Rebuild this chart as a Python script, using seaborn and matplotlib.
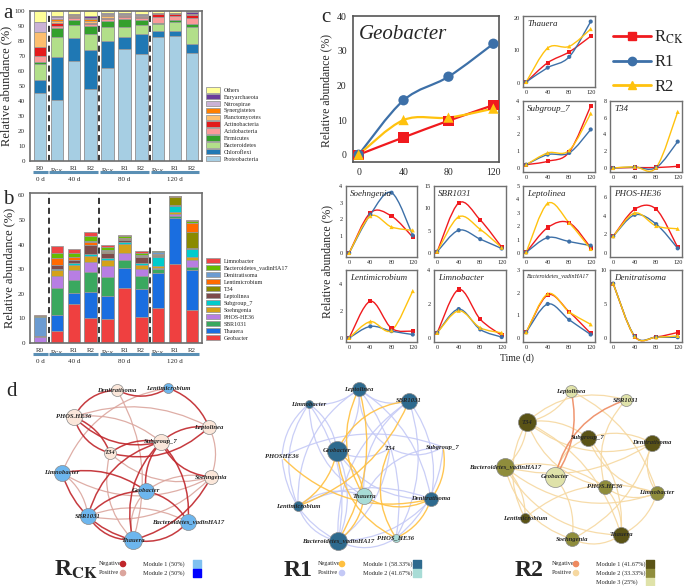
import numpy as np
import pandas as pd
import matplotlib
matplotlib.use("Agg")
import matplotlib.pyplot as plt
import seaborn as sns
from matplotlib.path import Path
from matplotlib.patches import PathPatch, Patch, FancyArrowPatch
from matplotlib.lines import Line2D

# ---------------- panel a : phylum composition (%) ----------------
samples = ["R0", "RCK_40", "R1_40", "R2_40", "RCK_80", "R1_80", "R2_80",
           "RCK_120", "R1_120", "R2_120"]
sample_labels = ["R0", "R$_{\\mathrm{CK}}$", "R1", "R2", "R$_{\\mathrm{CK}}$", "R1", "R2",
                 "R$_{\\mathrm{CK}}$", "R1", "R2"]
groups = ["0 d", "40 d", "80 d", "120 d"]
group_sizes = [1, 3, 3, 3]

phyla = ["Proteobacteria", "Chloroflexi", "Bacteroidetes", "Firmicutes",
         "Acidobacteria", "Actinobacteria", "Planctomycetes", "Synergistetes",
         "Nitrospirae", "Euryarchaeota", "Others"]
proteobacteria = [45.1, 40.7, 66.7, 47.8, 62.2, 74.4, 71.1, 82.9, 83.3, 71.8]
chloroflexi = [9.0, 28.4, 15.1, 26.2, 17.8, 8.0, 13.6, 3.8, 3.4, 6.2]
bacteroidetes = [10.7, 13.8, 8.9, 10.4, 9.1, 6.7, 6.0, 4.4, 6.2, 11.1]
firmicutes = [1.5, 5.5, 3.3, 5.6, 4.2, 5.3, 3.3, 1.1, 1.1, 2.2]
acidobacteria = [4.0, 1.6, 1.1, 1.3, 1.4, 1.4, 1.1, 4.0, 2.7, 3.8]
actinobacteria = [6.0, 1.8, 1.1, 0.9, 0.9, 0.9, 0.9, 1.6, 1.3, 2.2]
planctomycetes = [9.8, 1.3, 0.4, 1.4, 1.1, 0.4, 0.4, 0.3, 0.2, 0.3]
synergistetes = [0.2, 1.6, 0.5, 1.1, 0.6, 0.4, 0.4, 0.3, 0.2, 0.4]
nitrospirae = [6.2, 1.1, 0.4, 0.9, 0.7, 0.5, 0.5, 0.2, 0.2, 0.3]
euryarchaeota = [0.1, 0.9, 0.7, 0.8, 0.4, 0.4, 0.7, 0.4, 0.2, 0.8]
others = [7.4, 3.3, 1.8, 3.6, 1.6, 1.6, 2.0, 1.0, 1.2, 0.9]
phylum_values = [proteobacteria, chloroflexi, bacteroidetes, firmicutes,
                 acidobacteria, actinobacteria, planctomycetes, synergistetes,
                 nitrospirae, euryarchaeota, others]

# ---------------- panel c : genus dynamics (%) ----------------
days = [0, 40, 80, 120]
genera = ["Geobacter", "Thauera", "SBR1031", "PHOS-HE36", "Soehngenia",
          "Subgroup_7", "Leptolinea", "T34", "Lentimicrobium", "Denitratisoma",
          "Bacteroidetes_vadinHA17", "Limnobacter"]
rck_series = {
    "Geobacter": [0, 5.0, 9.8, 14.3], "Thauera": [0.3, 6.2, 9.5, 14.3],
    "SBR1031": [0.3, 11.2, 7.4, 1.3], "PHOS-HE36": [1.8, 4.7, 4.7, 0.6],
    "Soehngenia": [0, 2.4, 2.2, 0.95], "Subgroup_7": [0.2, 0.4, 0.95, 3.7],
    "Leptolinea": [0.05, 1.9, 2.25, 0.4], "T34": [0, 0.05, 0.05, 0.2],
    "Lentimicrobium": [0, 2.7, 0.7, 0.5], "Denitratisoma": [8.0, 0.2, 0.15, 0.8],
    "Bacteroidetes_vadinHA17": [0.25, 1.9, 1.15, 0.2], "Limnobacter": [0.3, 2.85, 1.1, 0.15],
}
r1_series = {
    "Geobacter": [0, 15.7, 22.5, 32.0], "Thauera": [0.3, 4.7, 8.0, 18.8],
    "SBR1031": [0.3, 5.1, 3.1, 1.0], "PHOS-HE36": [1.8, 4.1, 3.1, 0.5],
    "Soehngenia": [0, 2.3, 3.6, 1.05], "Subgroup_7": [0.2, 0.8, 0.9, 2.3],
    "Leptolinea": [0.05, 1.15, 0.85, 0.55], "T34": [0, 0.1, 0.05, 3.15],
    "Lentimicrobium": [0, 0.85, 0.5, 0.25], "Denitratisoma": [8.0, 0.25, 0.1, 0.1],
    "Bacteroidetes_vadinHA17": [0.25, 1.5, 0.8, 0.15], "Limnobacter": [0.3, 1.7, 0.5, 0.05],
}
r2_series = {
    "Geobacter": [0, 10.0, 10.7, 13.3], "Thauera": [0.3, 10.7, 11.2, 16.5],
    "SBR1031": [0.3, 8.1, 5.3, 1.2], "PHOS-HE36": [1.8, 4.3, 2.9, 2.6],
    "Soehngenia": [0, 2.2, 1.55, 1.35], "Subgroup_7": [0.2, 0.9, 1.05, 3.25],
    "Leptolinea": [0.05, 3.7, 2.25, 0.3], "T34": [0, 0.15, 0.05, 6.7],
    "Lentimicrobium": [0, 1.2, 0.55, 3.45], "Denitratisoma": [8.0, 0.2, 0.1, 0.3],
    "Bacteroidetes_vadinHA17": [0.25, 1.95, 1.15, 0.6], "Limnobacter": [0.3, 1.6, 0.6, 0.3],
}
genus_colors = ["#ef4040", "#1a6ee0", "#3aa85f", "#b77ee3", "#d4a21a", "#00cccc",
                "#7d4b4b", "#8a8a00", "#ff6a00", "#6b9bd1", "#66bb00", "#ef4444"]
# small panels: genus, y top, y ticks
small_panels = [
    ("Thauera", 20.5, [0, 10, 20]), ("Subgroup_7", 4, [0, 1, 2, 3, 4]),
    ("T34", 8, [0, 2, 4, 6, 8]), ("Soehngenia", 4, [0, 1, 2, 3, 4]),
    ("SBR1031", 15, [0, 5, 10, 15]), ("Leptolinea", 5, [0, 1, 2, 3, 4, 5]),
    ("PHOS-HE36", 7.2, [0, 2, 4, 6]), ("Lentimicrobium", 5, [0, 2, 4]),
    ("Limnobacter", 4, [0, 2, 4]), ("Bacteroidetes_vadinHA17", 3, [0, 1, 2, 3]),
    ("Denitratisoma", 10, [0, 5, 10]),
]
small_boxes = [(523, 16, 595, 87), (523, 101, 595, 172), (610, 101, 682, 172),
               (346, 186, 417, 257), (434, 186, 506, 257), (523, 186, 595, 257),
               (610, 186, 682, 257), (346, 270, 417, 342), (434, 270, 506, 342),
               (523, 270, 595, 342), (610, 270, 682, 342)]
treatments = ["R$_{\\mathrm{CK}}$", "R1", "R2"]
treat_colors = ["#f01a1e", "#3d70a8", "#ffc20e"]
treat_markers = ["s", "o", "^"]

# ---------------- panel d : co-occurrence networks ----------------
rck_nodes = ["Denitratisoma", "Lentimicrobium", "PHOS.HE36", "Leptolinea", "Subgroup_7",
             "T34", "Limnobacter", "Soehngenia", "Geobacter", "SBR1031",
             "Bacteroidetes_vadinHA17", "Thauera"]
rck_x = [117, 168, 74, 209, 161, 110, 62, 211, 146, 88, 188, 133]
rck_y = [390, 388, 417, 427, 442, 453, 473, 477, 491, 516, 522, 540]
rck_radius = [6, 5, 8, 7, 8, 6, 8, 7, 8, 8, 8, 9]
rck_module = [2, 1, 2, 2, 2, 2, 1, 2, 1, 1, 1, 1]
rck_neg = [(0, 2), (1, 3), (0, 1), (2, 5), (2, 4), (4, 3), (5, 3), (5, 4), (4, 9), (4, 10),
           (4, 11), (6, 8), (6, 11), (9, 8), (9, 11), (8, 10), (11, 10), (7, 11), (4, 7),
           (8, 4), (2, 5)]
rck_pos = [(0, 11), (1, 6), (2, 3), (5, 7), (6, 9), (9, 7), (9, 10), (8, 11), (3, 7),
           (6, 7), (8, 7), (5, 11), (2, 4)]

r1_nodes = ["Leptolinea", "Limnobacter", "SBR1031", "Geobacter", "PHOSHE36", "T34",
            "Subgroup_7", "Thauera", "Denitratisoma", "Lentimicrobium",
            "Bacteroidetes_vadinHA17", "PHOS_HE36"]
r1_x = [359, 309, 409, 337, 282, 390, 443, 364, 431, 298, 338, 396]
r1_y = [389, 404, 401, 451, 457, 448, 447, 496, 499, 506, 541, 538]
r1_radius = [7, 4, 8, 10, 0, 0, 0, 8, 7, 5, 9, 4]
r1_module = [1, 1, 1, 1, 1, 1, 1, 2, 1, 1, 1, 2]
r1_neg = [(0, 10), (2, 3), (2, 9), (3, 11), (3, 9), (4, 8), (7, 10), (7, 8), (6, 8),
          (5, 11), (8, 11), (0, 7), (3, 7)]
r1_pos = [(0, 1), (0, 2), (0, 3), (0, 5), (0, 8), (0, 9), (1, 3), (1, 7), (1, 10), (2, 7),
          (2, 8), (2, 10), (2, 11), (3, 5), (3, 10), (3, 8), (4, 6), (4, 10), (4, 1), (5, 6),
          (5, 10), (6, 7), (6, 11), (7, 9), (8, 10), (9, 10), (9, 8), (10, 11), (0, 11), (1, 9)]

r2_nodes = ["Leptolinea", "SBR1031", "T34", "Subgroup_7", "Denitratisoma",
            "Bacteroidetes_vadinHA17", "Geobacter", "PHOS.HE36", "Limnobacter",
            "Lentimicrobium", "Soehngenia", "Thauera"]
r2_x = [571, 626, 527, 588, 652, 505, 555, 605, 657, 525, 572, 621]
r2_y = [391, 400, 422, 438, 443, 467, 477, 487, 493, 518, 539, 535]
r2_radius = [6, 6, 9, 8, 8, 9, 10, 7, 7, 5, 7, 8]
r2_module = [3, 3, 1, 1, 1, 2, 3, 2, 2, 1, 2, 1]
r2_neg = [(0, 6), (1, 6)]
r2_pos = [(2, 3), (2, 4), (2, 5), (2, 7), (2, 11), (2, 9), (3, 4), (3, 6), (3, 11), (4, 8),
          (4, 5), (5, 8), (5, 7), (5, 10), (5, 9), (5, 11), (6, 10), (7, 8), (7, 11), (8, 9),
          (8, 11), (10, 11), (0, 2), (1, 2), (0, 8), (1, 7), (4, 10), (3, 8)]

W, H = 685, 586
sns.set_style("white")
plt.rcParams["font.family"] = ["Liberation Serif", "DejaVu Serif"]
plt.rcParams["mathtext.fontset"] = "stix"
fig = plt.figure(figsize=(W / 100, H / 100), dpi=100)


def px_axes(x0, y0, x1, y1):
    return fig.add_axes([x0 / W, 1 - y1 / H, (x1 - x0) / W, (y1 - y0) / H])


def frame(ax, color="#707070", lw=1.0):
    for s in ax.spines.values():
        s.set_visible(True)
        s.set_color(color)
        s.set_linewidth(lw)


def stacked_bars(ax, names, values, colors, top, yticks):
    # cumulative bars drawn from the top layer down
    cum = np.cumsum(np.array(values), axis=0)
    for i in range(len(names) - 1, -1, -1):
        df = pd.DataFrame({"sample": samples, "value": cum[i]})
        sns.barplot(data=df, x="sample", y="value", color=colors[i], ax=ax,
                    width=0.75, edgecolor="#9a9a9a", linewidth=0.6, saturation=1)
    ax.set_ylim(0, top)
    ax.set_xlim(-0.6, len(samples) - 0.4)
    ax.set_yticks(yticks)
    ax.set_xticks(range(len(samples)))
    ax.set_xticklabels(sample_labels)
    ax.tick_params(axis="both", labelsize=5, length=2, width=0.6, pad=1.5, color="#555")
    ax.set_xlabel("")
    ax.set_ylabel("Relative abundance (%)", fontsize=9, labelpad=2)
    pos = 0
    for g, n in zip(groups, group_sizes):
        if pos > 0:
            ax.axvline(pos - 0.5, color="black", ls=(0, (4, 2.5)), lw=1.1)
        ax.plot([pos - 0.45, pos + n - 0.55], [-0.075, -0.075], color="#5a8fb4", lw=2.2,
                transform=ax.get_xaxis_transform(), clip_on=False, solid_capstyle="butt")
        ax.text(pos + (n - 1) / 2, -0.105, g, fontsize=5, ha="center", va="top",
                transform=ax.get_xaxis_transform())
        pos += n
    frame(ax, "#6e6e6e", 1.2)


# ---- a
axa = px_axes(30, 11, 202, 161)
pal = sns.color_palette("Paired", 11)
stacked_bars(axa, phyla, phylum_values, pal, 100, range(0, 101, 10))
h = [Patch(facecolor=pal[i], edgecolor="#9a9a9a", lw=0.6, label=phyla[i]) for i in range(10, -1, -1)]
axa.legend(handles=h, loc="lower left", bbox_to_anchor=(1.01, -0.02), frameon=False,
           fontsize=4.3, handlelength=2.4, handleheight=1.05, labelspacing=0.18,
           handletextpad=0.6, borderaxespad=0)

# ---- b (built from the genus series of panel c)
genus_values = []
for g in genera:
    r0 = rck_series[g][0]
    row = [r0]
    for t in range(1, 4):
        row += [rck_series[g][t], r1_series[g][t], r2_series[g][t]]
    genus_values.append(row)
axb = px_axes(30, 193, 202, 343)
stacked_bars(axb, genera, genus_values, genus_colors, 61, range(0, 61, 10))
h = [Patch(facecolor=genus_colors[i], edgecolor="#9a9a9a", lw=0.6, label=genera[i])
     for i in range(len(genera) - 1, -1, -1)]
axb.legend(handles=h, loc="lower left", bbox_to_anchor=(1.01, 0.0), frameon=False,
           fontsize=4.3, handlelength=2.4, handleheight=1.05, labelspacing=0.2,
           handletextpad=0.6, borderaxespad=0)


# ---- c
def smooth(ax, xs, ys, color, lw):
    pts = np.column_stack([xs, ys]).astype(float)
    ext = np.vstack([pts[0], pts, pts[-1]])
    verts, codes = [pts[0]], [Path.MOVETO]
    for i in range(len(pts) - 1):
        p0, p1, p2, p3 = ext[i], ext[i + 1], ext[i + 2], ext[i + 3]
        verts += [p1 + (p2 - p0) / 6, p2 - (p3 - p1) / 6, p2]
        codes += [Path.CURVE4] * 3
    ax.add_patch(PathPatch(Path(verts, codes), fill=False, ec=color, lw=lw, zorder=2))


def trend(ax, genus, lw, ms):
    for series, c, m in zip([rck_series, r1_series, r2_series], treat_colors, treat_markers):
        smooth(ax, days, series[genus], c, lw)
        sns.scatterplot(x=days, y=series[genus], marker=m, color=c, s=ms, ax=ax,
                        edgecolor="none", zorder=3, legend=False)


axm = px_axes(353, 16, 499, 162)
trend(axm, "Geobacter", 1.6, 55)
axm.set_xlim(-5, 125)
axm.set_ylim(-2.1, 40)
axm.set_xticks(days)
axm.set_yticks(range(0, 41, 10))
axm.tick_params(labelsize=7, length=2.5, width=0.7, pad=2, color="#555")
axm.text(0.04, 0.94, "Geobacter", transform=axm.transAxes, fontsize=15, style="italic",
         va="top")
frame(axm, "#555", 1.2)

for (g, top, ticks), (x0, y0, x1, y1) in zip(small_panels, small_boxes):
    ax = px_axes(x0, y0, x1, y1)
    trend(ax, g, 1.0, 9)
    ax.set_xlim(-6, 128)
    ax.set_ylim(-0.06 * top, top)
    ax.set_xticks(days)
    ax.set_yticks(ticks)
    ax.tick_params(labelsize=4.5, length=1.5, width=0.5, pad=1, color="#555")
    title_size = 4.2 if g == "Bacteroidetes_vadinHA17" else 6.5
    ax.text(0.06, 0.95, g, transform=ax.transAxes, fontsize=title_size, style="italic",
            va="top")
    frame(ax, "#707070", 1.0)

fig.text(326 / W, 1 - 90 / H, "Relative abundance (%)", rotation=90, fontsize=8.5,
         ha="center", va="center")
fig.text(327 / W, 1 - 262 / H, "Relative abundance (%)", rotation=90, fontsize=8.5,
         ha="center", va="center")
fig.text(517 / W, 1 - 358 / H, "Time (d)", fontsize=7, ha="center", va="center")
handles = [Line2D([0], [0], color=c, marker=m, lw=2, ms=6) for c, m in
           zip(treat_colors, treat_markers)]
fig.legend(handles, treatments, loc="upper left", bbox_to_anchor=(606 / W, 1 - 22 / H),
           frameon=False, fontsize=12, handlelength=2.3, labelspacing=0.5,
           handletextpad=0.2, borderaxespad=0)

# ---- d
axd = fig.add_axes([0, 0, 1, 1], zorder=-1)
axd.set_xlim(0, W)
axd.set_ylim(H, 0)
axd.set_axis_off()


def network(nodes, xs, ys, radius, module, neg, pos, mod_colors, neg_c, pos_c, neg_lw):
    k = 0
    for edges, c, lw in [(pos, pos_c, 0.9), (neg, neg_c, neg_lw)]:
        for a, b in edges:
            rad = 0.28 if k % 2 else -0.22
            k += 1
            axd.add_patch(FancyArrowPatch((xs[a], ys[a]), (xs[b], ys[b]),
                                          connectionstyle=f"arc3,rad={rad}", arrowstyle="-",
                                          color=c, lw=lw, alpha=0.9, zorder=1))
    for n, x, y, r, m in zip(nodes, xs, ys, radius, module):
        if r > 0:
            axd.scatter([x], [y], s=(2 * r * 0.72) ** 2, color=mod_colors[m - 1],
                        edgecolor="#8a8a8a", lw=0.5, zorder=3)
        axd.text(x, y, n, fontsize=4.8, style="italic", weight="bold", ha="center",
                 va="center", zorder=4)


network(rck_nodes, rck_x, rck_y, rck_radius, rck_module, rck_neg, rck_pos,
        ["#6db6ee", "#fbe7da"], "#c0262b", "#dba59d", 1.1)
network(r1_nodes, r1_x, r1_y, r1_radius, r1_module, r1_neg, r1_pos,
        ["#2e6a8e", "#a8dcd6"], "#ffc040", "#c4c9f6", 1.0)
network(r2_nodes, r2_x, r2_y, r2_radius, r2_module, r2_neg, r2_pos,
        ["#5a5316", "#8f8d3c", "#dfe2a9"], "#ee8a60", "#f6d8a0", 1.1)

legends_d = [
    ("R$_{\\mathbf{CK}}$", 76, 99, 143, ["Module 1 (50%)", "Module 2 (50%)"],
     ["#7fc0f0", "#0000ff"], "#c0262b", "#dba59d", 197),
    ("R1", 298, 318, 363, ["Module 1 (58.33%)", "Module 2 (41.67%)"],
     ["#2e6a8e", "#a8dcd6"], "#ffc040", "#c4c9f6", 417),
    ("R2", 529, 552, 596, ["Module 1 (41.67%)", "Module 2 (33.33%)", "Module 3 (25%)"],
     ["#5a5316", "#8f8d3c", "#dfe2a9"], "#ee8a60", "#f6d8a0", 650),
]
for title, tx, nx, mx, mods, mcols, nc, pc, sx in legends_d:
    axd.text(tx, 570, title, fontsize=17, weight="bold", ha="center", va="center")
    axd.text(nx, 564, "Negative", fontsize=4.5, va="center")
    axd.text(nx, 573, "Positive", fontsize=4.5, va="center")
    axd.scatter([nx + 24, nx + 24], [564, 573], s=14, color=[nc, pc], zorder=3)
    for j, (lab, mc) in enumerate(zip(mods, mcols)):
        axd.text(mx, 564 + 9 * j, lab, fontsize=4.5, va="center")
        axd.scatter([sx], [564 + 9 * j], s=28, marker="s", color=mc, zorder=3)

for lab, x, y in [("a", 3, 14), ("b", 3, 199), ("c", 321, 17), ("d", 6, 391)]:
    fig.text(x / W, 1 - y / H, lab, fontsize=15, ha="left", va="center")

fig.savefig("out.png", dpi=100)
